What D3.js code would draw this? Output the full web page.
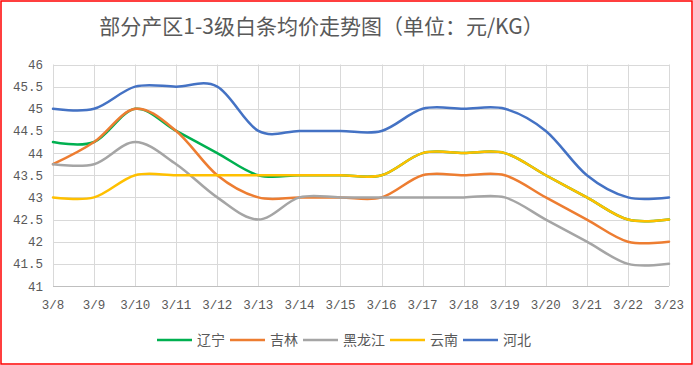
<!DOCTYPE html>
<html>
<head>
<meta charset="utf-8">
<script src="https://cdn.jsdelivr.net/npm/d3@7"></script>
<style>
html,body{margin:0;padding:0;background:#fff;}
svg{display:block;}
</style>
</head>
<body>
<svg id="chart" width="693" height="365"></svg>
<script>
const title = "部分产区1-3级白条均价走势图（单位：元/KG）";
const categories = ["3/8","3/9","3/10","3/11","3/12","3/13","3/14","3/15","3/16","3/17","3/18","3/19","3/20","3/21","3/22","3/23"];
const seriesNames = ["辽宁","吉林","黑龙江","云南","河北"];
const liaoning     = [44.25,44.25,45,44.5,44,43.5,43.5,43.5,43.5,44,44,44,43.5,43,42.5,42.5];
const jilin        = [43.75,44.25,45,44.5,43.5,43,43,43,43,43.5,43.5,43.5,43,42.5,42,42];
const heilongjiang = [43.75,43.75,44.25,43.75,43,42.5,43,43,43,43,43,43,42.5,42,41.5,41.5];
const yunnan       = [43,43,43.5,43.5,43.5,43.5,43.5,43.5,43.5,44,44,44,43.5,43,42.5,42.5];
const hebei        = [45,45,45.5,45.5,45.5,44.5,44.5,44.5,44.5,45,45,45,44.5,43.5,43,43];
const yTicks = [41,41.5,42,42.5,43,43.5,44,44.5,45,45.5,46];
const colors = ["#00B050","#ED7D31","#A5A5A5","#FFC000","#4472C4"];
const seriesValues = [liaoning, jilin, heilongjiang, yunnan, hebei];

(function(){
const svg = d3.select("#chart");
const textColor = "#595959";
const pL = 53, pR = 669, pT = 64.5, pB = 286;

const x = d3.scalePoint().domain(categories).range([pL, pR]);
const y = d3.scaleLinear().domain([41,46]).range([pB, pT]);

// border
svg.append("rect").attr("x",1).attr("y",1).attr("width",691).attr("height",363)
  .attr("fill","#fff").attr("stroke","#FF0000").attr("stroke-width",1.5);

// title
svg.append("text").attr("x",321.5).attr("y",34).attr("text-anchor","middle")
  .attr("font-family","'Noto Sans CJK SC', sans-serif").attr("font-size",21)
  .attr("fill",textColor).text(title);

// horizontal gridlines
svg.append("g").selectAll("line").data(yTicks.slice(1)).join("line")
  .attr("x1",pL).attr("x2",pR)
  .attr("y1",d=>Math.round(y(d))+0.5).attr("y2",d=>Math.round(y(d))+0.5)
  .attr("stroke","#D9D9D9").attr("stroke-width",1);
// vertical gridlines
svg.append("g").selectAll("line").data(categories).join("line")
  .attr("x1",d=>Math.round(x(d))+0.5).attr("x2",d=>Math.round(x(d))+0.5)
  .attr("y1",pT).attr("y2",pB)
  .attr("stroke","#D9D9D9").attr("stroke-width",1);
// x axis line
svg.append("line").attr("x1",pL).attr("x2",pR)
  .attr("y1",Math.round(y(41))+0.5).attr("y2",Math.round(y(41))+0.5)
  .attr("stroke","#BFBFBF").attr("stroke-width",1);

// y labels
svg.append("g").selectAll("text").data(yTicks).join("text")
  .attr("x",43).attr("y",d=>y(d)+4.5).attr("text-anchor","end")
  .attr("font-family","'Liberation Mono', monospace").attr("font-size",12.5)
  .attr("fill",textColor).text(d=>d);

// x labels
svg.append("g").selectAll("text").data(categories).join("text")
  .attr("x",d=>x(d)).attr("y",309).attr("text-anchor","middle")
  .attr("font-family","'Liberation Mono', monospace").attr("font-size",12.5)
  .attr("fill",textColor).text(d=>d);

// lines
const line = d3.line().x((d,i)=>x(categories[i])).y(d=>y(d)).curve(d3.curveCardinal.tension(0));
seriesValues.forEach((vals,k)=>{
  svg.append("path").datum(vals).attr("d",line).attr("fill","none")
    .attr("stroke",colors[k]).attr("stroke-width",2.5).attr("stroke-linecap","round");
});

// legend
let lx = 157;
const ly = 340;
seriesNames.forEach((name,k)=>{
  svg.append("line").attr("x1",lx).attr("x2",lx+35).attr("y1",ly).attr("y2",ly)
    .attr("stroke",colors[k]).attr("stroke-width",2.5);
  const t = svg.append("text").attr("x",lx+40).attr("y",ly+5)
    .attr("font-family","'Noto Sans CJK SC', sans-serif").attr("font-size",14)
    .attr("fill",textColor).text(name);
  lx = lx + 40 + t.node().getComputedTextLength() + 5;
});
})();
</script>
</body>
</html>
